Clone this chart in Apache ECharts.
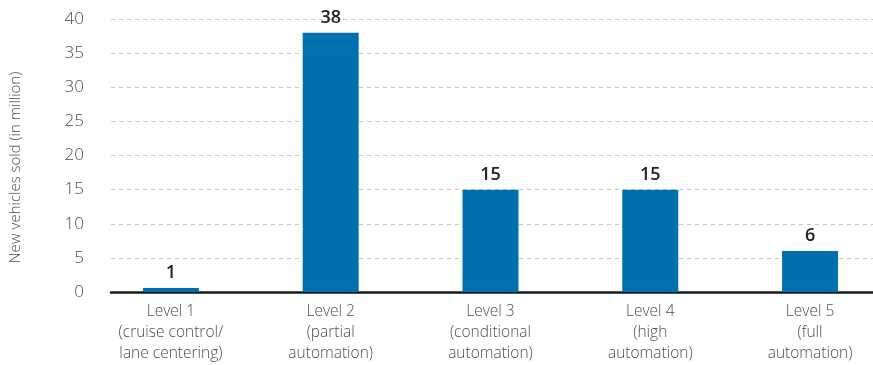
<!DOCTYPE html>
<html>
<head>
<meta charset="utf-8">
<script src="https://cdn.jsdelivr.net/npm/echarts@6/dist/echarts.min.js"></script>
<style>
  html, body { margin: 0; padding: 0; background: #fff; }
  #chart { width: 873px; height: 365px; }
</style>
</head>
<body>
<div id="chart"></div>
<script>
const levels = [
  "Level 1\n(cruise control/\nlane centering)",
  "Level 2\n(partial\nautomation)",
  "Level 3\n(conditional\nautomation)",
  "Level 4\n(high\nautomation)",
  "Level 5\n(full\nautomation)",
];
const sold = [0.6, 38, 15, 15, 6];
const yTicks = [0, 5, 10, 15, 20, 25, 30, 35, 40];

const chart = echarts.init(document.getElementById("chart"), null, { renderer: "canvas" });
const font = "'Open Sans', Lato, sans-serif";

chart.setOption({
  animation: false,
  grid: { left: 110, right: 0, top: 19, bottom: 73 },
  xAxis: {
    type: "value",
    min: -0.375,
    max: 4.394,
    axisLine: { show: true, onZero: true, lineStyle: { color: "#1a1a1a", width: 2.5 } },
    axisTick: { show: false },
    splitLine: { show: false },
    axisLabel: {
      customValues: levels.map((_, i) => i),
      formatter: (v) => levels[Math.round(v)] ?? "",
      color: "#4d4d4d",
      fontFamily: font,
      fontWeight: 300,
      fontSize: 15.5,
      lineHeight: 21,
      margin: 9,
      align: "center",
    },
  },
  yAxis: {
    type: "value",
    min: 0,
    max: 40,
    interval: 5,
    name: "New vehicles sold (in million)",
    nameLocation: "middle",
    nameGap: 88,
    nameTextStyle: { color: "#4d4d4d", fontFamily: font, fontWeight: 300, fontSize: 15, padding: [0, 24, 0, 0] },
    axisLine: { show: false },
    axisTick: { show: false },
    axisLabel: {
      customValues: yTicks,
      color: "#4d4d4d",
      fontFamily: font,
      fontWeight: 300,
      fontSize: 17,
      margin: 27,
    },
    splitLine: { show: true, lineStyle: { color: "#c8c8c8", type: [4, 4], width: 1 } },
  },
  series: [{
    type: "bar",
    barWidth: 56,
    data: sold.map((v, i) => [i, v]),
    itemStyle: { color: "#0070ae" },
    label: {
      show: true,
      position: "top",
      distance: 6,
      formatter: (p) => String(Math.round(p.value[1])),
      color: "#222",
      fontFamily: font,
      fontWeight: 600,
      fontSize: 18,
    },
  }],
});
</script>
</body>
</html>
